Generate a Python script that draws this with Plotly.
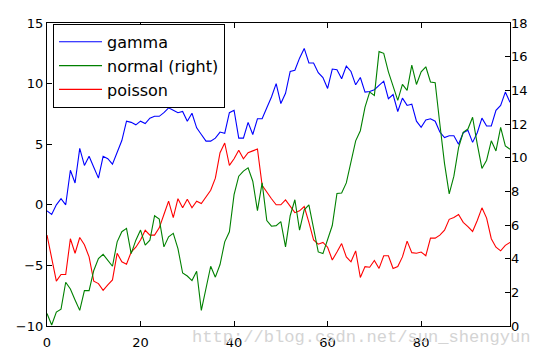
import plotly.graph_objects as go

x = list(range(100))

gamma = [-0.5, -0.8, 0.0, 0.5, 0.0, 2.85, 1.8, 4.65, 3.25, 4.0,
         3.1, 2.2, 4.0, 3.8, 3.35, 4.25, 5.3, 6.9, 6.8, 6.6,
         6.9, 6.7, 7.15, 7.3, 7.3, 7.6, 8.0, 7.8, 7.6, 7.7,
         6.9, 7.55, 6.35, 5.8, 5.25, 5.25, 5.5, 6.0, 5.9, 7.6,
         7.8, 5.5, 5.5, 6.8, 5.8, 7.1, 7.1, 8.0, 8.9, 10.0,
         8.35, 9.2, 11.0, 11.1, 12.1, 12.9, 11.7, 11.7, 10.9, 10.5,
         9.6, 11.2, 11.15, 10.4, 11.45, 11.0, 9.9, 10.5, 9.3, 9.35,
         9.5, 9.85, 10.2, 8.75, 9.1, 7.7, 8.8, 8.2, 8.3, 6.9,
         6.4, 7.0, 7.1, 6.9, 6.0, 5.55, 5.7, 5.7, 5.0, 5.95,
         6.15, 5.15, 5.95, 7.15, 6.5, 6.5, 7.8, 8.2, 9.3, 8.45]

normal = [0.74, 0.06, 0.83, 1.0, 2.6, 2.2, 1.55, 0.93, 2.1, 2.1,
          3.3, 4.0, 4.26, 3.9, 3.55, 5.0, 5.6, 5.8, 4.3, 5.1,
          5.7, 4.8, 5.1, 6.55, 6.35, 4.7, 5.3, 5.5, 4.6, 3.15,
          2.97, 2.7, 3.25, 0.93, 2.3, 3.55, 2.9, 3.65, 5.0, 5.6,
          7.8, 8.9, 9.2, 9.4, 8.6, 6.85, 8.5, 6.26, 5.93, 5.96,
          6.2, 4.7, 6.55, 7.5, 5.7, 6.9, 7.2, 5.8, 4.4, 4.3,
          5.2, 5.97, 7.87, 7.9, 8.5, 9.75, 11.0, 11.6, 13.0, 13.9,
          13.7, 16.3, 16.2, 15.1, 14.3, 13.4, 14.35, 14.0, 15.5, 14.35,
          15.1, 15.4, 14.5, 14.45, 12.0, 9.65, 7.85, 8.9, 10.6, 11.5,
          11.7, 12.4, 10.8, 9.36, 9.85, 11.0, 10.4, 11.8, 10.7, 10.5]

poisson = [-2.5, -4.3, -6.3, -5.75, -5.75, -2.8, -4.0, -2.7, -3.3, -4.3,
           -6.3, -6.5, -7.05, -6.6, -6.2, -4.0, -4.7, -4.9, -3.9, -3.5,
           -2.9, -2.1, -2.5, -2.5, -1.9, -0.8, 0.3, -1.05, 0.5, -0.25,
           0.45, -0.25, 0.3, 0.1, 0.6, 1.2, 2.2, 4.3, 5.1, 3.25,
           3.8, 4.5, 3.8, 4.3, 4.45, 4.6, 1.6, 1.0, 0.5, 0.0,
           0.0, 0.4, -0.1, -0.65, -0.5, -0.15, -1.45, -2.9, -3.25, -3.1,
           -3.5, -4.55, -3.9, -3.2, -4.3, -4.7, -3.8, -6.0, -5.1, -5.15,
           -4.6, -5.25, -4.2, -4.2, -5.25, -5.1, -4.3, -3.0, -3.95, -4.0,
           -3.9, -4.2, -2.75, -2.75, -2.5, -2.1, -1.2, -1.05, -0.8, -1.45,
           -1.8, -2.2, -1.3, -0.25, -1.1, -2.8, -3.5, -3.8, -3.35, -3.1]

x_ticks = [0, 20, 40, 60, 80]
left_ticks = [-10, -5, 0, 5, 10, 15]
right_ticks = [0, 2, 4, 6, 8, 10, 12, 14, 16, 18]

fig = go.Figure()
fig.add_trace(go.Scatter(x=x, y=gamma, mode="lines", name="gamma",
                         line=dict(color="#0000ff", width=1.1)))
fig.add_trace(go.Scatter(x=x, y=normal, mode="lines", name="normal (right)",
                         line=dict(color="#008000", width=1.1), yaxis="y2"))
fig.add_trace(go.Scatter(x=x, y=poisson, mode="lines", name="poisson",
                         line=dict(color="#ff0000", width=1.1)))

font = dict(family="DejaVu Sans", size=13, color="black")

fig.update_layout(
    width=543, height=356,
    margin=dict(l=37, r=41, t=8, b=38),
    paper_bgcolor="white", plot_bgcolor="white",
    font=font,
    showlegend=True,
    legend=dict(x=0.013, y=0.997, xanchor="left", yanchor="top",
                bgcolor="white", bordercolor="black", borderwidth=1,
                font=dict(family="DejaVu Sans", size=16, color="black"),
                tracegroupgap=0, itemwidth=43),
    xaxis=dict(range=[0, 99], tickvals=x_ticks, ticks="inside", ticklen=5,
               tickcolor="black", showline=True, linecolor="black", linewidth=1.2,
               mirror="ticks", showgrid=False, zeroline=False, tickfont=font,
               ticklabelstandoff=4),
    yaxis=dict(range=[-10, 15], tickvals=left_ticks, ticks="inside", ticklen=5,
               tickcolor="black", showline=True, linecolor="black", linewidth=1.2,
               mirror=True, showgrid=False, zeroline=False, tickfont=font),
    yaxis2=dict(range=[0, 18], tickvals=right_ticks, ticks="inside", ticklen=5,
                tickcolor="black", overlaying="y", side="right",
                showline=False, showgrid=False, zeroline=False, tickfont=font),
    annotations=[dict(text="http://blog.csdn.net/sun_shengyun", xref="paper", yref="paper",
                      x=1.049, y=-0.0387, xanchor="right", yanchor="middle", showarrow=False,
                      font=dict(family="Liberation Mono", size=17.1, color="#d4d4d4"))],
)

fig.write_html("out.html")
